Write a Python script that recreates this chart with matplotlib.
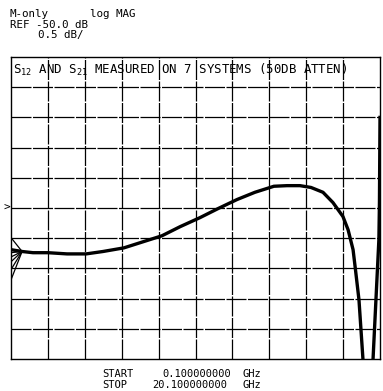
import matplotlib
matplotlib.use("Agg")
import matplotlib.pyplot as plt

plt.rcParams["font.family"] = ["DejaVu Sans Mono"]
plt.rcParams["mathtext.fontset"] = "custom"
plt.rcParams["mathtext.rm"] = "DejaVu Sans Mono"

# sweep 0.1 .. 20.1 GHz, ref -50 dB at centre, 0.5 dB/div
freq_ghz = [0.10, 0.70, 1.29, 2.11, 3.14, 4.17, 5.09, 6.22, 7.25, 8.28,
            9.26, 10.34, 11.32, 12.35, 13.32, 14.35, 15.06, 15.76, 16.36, 17.01,
            17.55, 18.09, 18.37, 18.64, 18.77, 18.96, 19.07, 19.18, 19.45, 19.72,
            19.80, 19.88, 19.96, 20.04, 20.07, 20.10]
trace_db = [-50.69, -50.72, -50.74, -50.74, -50.76, -50.76, -50.72, -50.66, -50.56, -50.46,
            -50.31, -50.16, -50.01, -49.86, -49.74, -49.64, -49.63, -49.63, -49.66, -49.74,
            -49.91, -50.14, -50.36, -50.69, -51.02, -51.52, -52.02, -52.52, -58.0, -52.52,
            -52.02, -51.52, -51.02, -50.52, -49.90, -48.50]

# the 7 systems spread at the first points, then merge
fan_start_db = [-50.49, -50.69, -50.74, -50.81, -50.89, -51.02, -51.19]
fan_join = (0.70, -50.72)

ref_db = -50.0
db_per_div = 0.5
f_start, f_stop = 0.1, 20.1

fig = plt.figure(figsize=(3.83, 3.91), dpi=100)
ax = fig.add_axes([11 / 383, 1 - 359 / 391, 369 / 383, 302 / 391])

ax.set_xlim(f_start, f_stop)
ax.set_ylim(ref_db - 5 * db_per_div, ref_db + 5 * db_per_div)

# graticule
for i in range(1, 10):
    ax.axvline(f_start + i * (f_stop - f_start) / 10, color="black", lw=0.9,
               ls=(0, (16, 1.2)), zorder=1)
    ax.axhline(ref_db - 5 * db_per_div + i * db_per_div, color="black", lw=0.9,
               ls=(0, (16, 1.2)), zorder=1)
for s in ax.spines.values():
    s.set_linewidth(1.0)
ax.set_xticks([])
ax.set_yticks([])

ax.plot(freq_ghz, trace_db, color="black", lw=2.4, solid_joinstyle="round", zorder=3)
for v in fan_start_db:
    ax.plot([f_start, fan_join[0]], [v, fan_join[1]], color="black", lw=0.9, zorder=3)

# reference marker
ax.text(-0.003, 0.5, ">", transform=ax.transAxes, ha="right", va="center",
        fontsize=8, clip_on=False)

ax.text(0.005, 0.985, "S$_{12}$ AND S$_{21}$ MEASURED ON 7 SYSTEMS (50DB ATTEN)",
        transform=ax.transAxes, ha="left", va="top", fontsize=8.9)

# header
fig.text(10 / 383, 1 - 14 / 391, "M-only", fontsize=7.8, va="center")
fig.text(90 / 383, 1 - 14 / 391, "log MAG", fontsize=7.8, va="center")
fig.text(10 / 383, 1 - 24.5 / 391, "REF -50.0 dB", fontsize=7.8, va="center")
fig.text(38 / 383, 1 - 35 / 391, "0.5 dB/", fontsize=7.8, va="center")

# footer
fig.text(102 / 383, 1 - 374 / 391, "START", fontsize=7.5, va="center")
fig.text(162 / 383, 1 - 374 / 391, "0.100000000", fontsize=7.5, va="center")
fig.text(243 / 383, 1 - 374 / 391, "GHz", fontsize=7.5, va="center")
fig.text(102 / 383, 1 - 384.5 / 391, "STOP", fontsize=7.5, va="center")
fig.text(152 / 383, 1 - 384.5 / 391, "20.100000000", fontsize=7.5, va="center")
fig.text(243 / 383, 1 - 384.5 / 391, "GHz", fontsize=7.5, va="center")

fig.savefig("out.png", dpi=100)
